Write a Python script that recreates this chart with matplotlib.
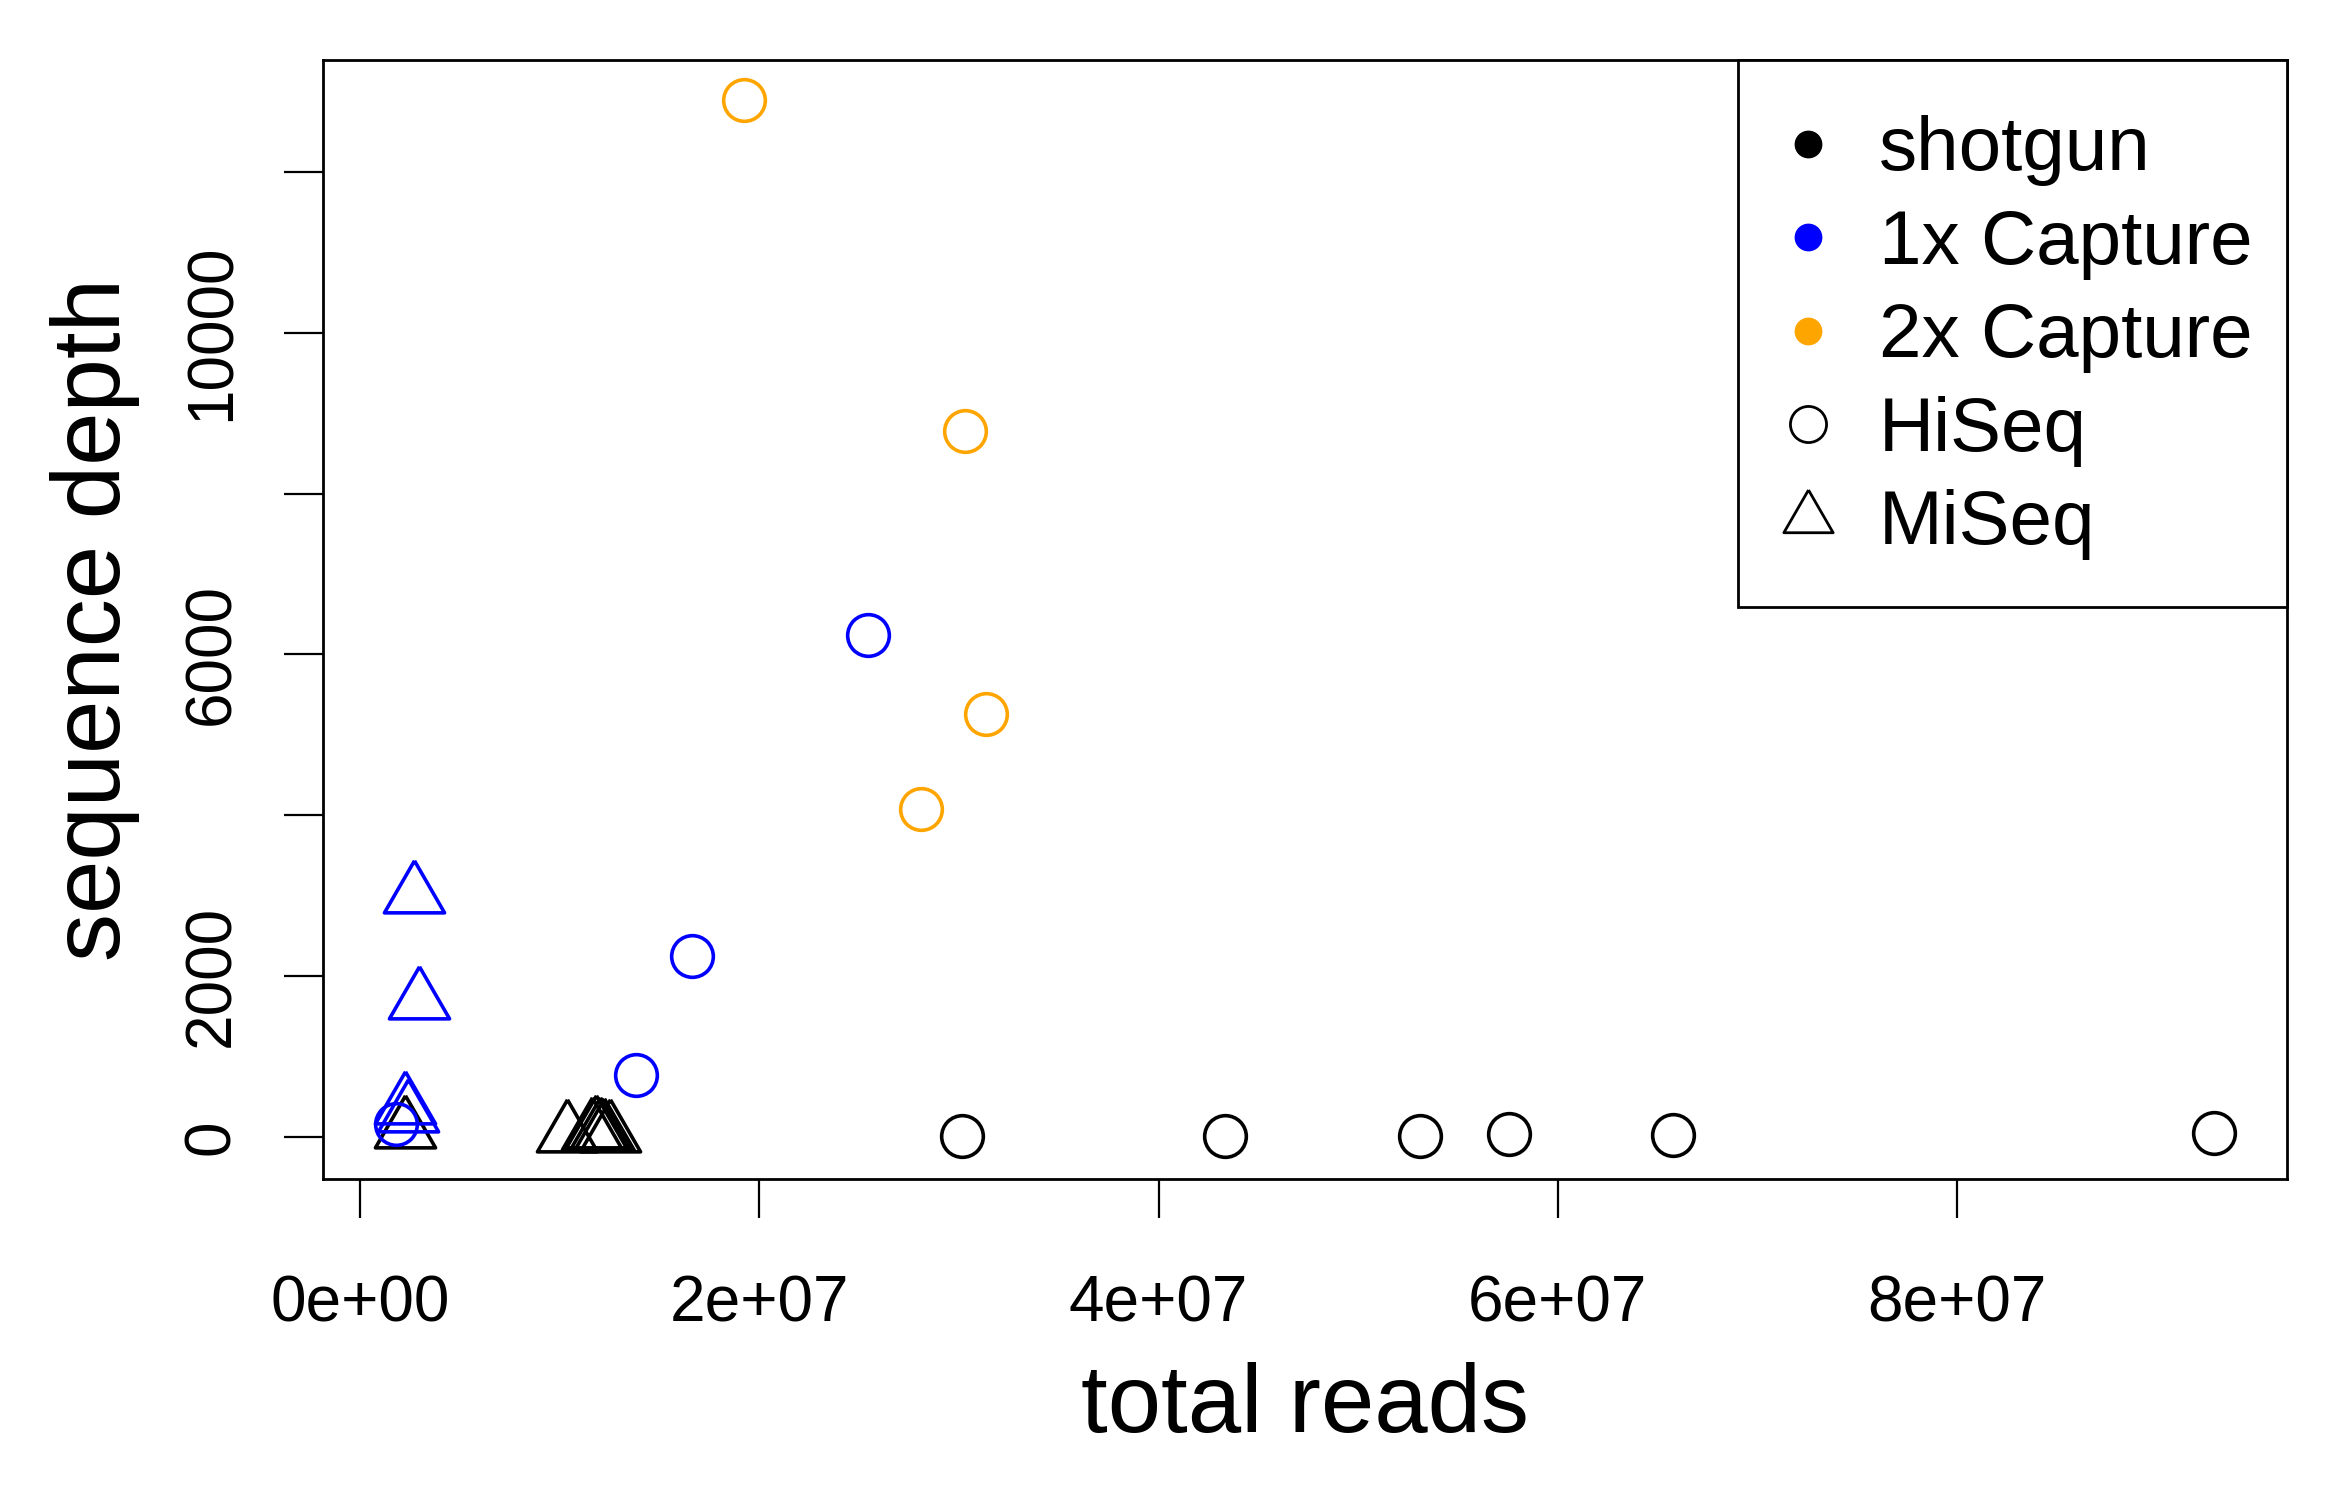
import matplotlib
matplotlib.use("Agg")
import matplotlib.pyplot as plt
from matplotlib.lines import Line2D
from matplotlib.patches import Rectangle
import numpy as np

plt.rcParams['font.family'] = ['Liberation Sans', 'DejaVu Sans']

# total reads / sequence depth
hiseq_2x_x = [1.921e7, 3.028e7, 3.133e7, 2.811e7]
hiseq_2x_y = [12889, 8778, 5259, 4074]

hiseq_1x_x = [2.542e7, 1.660e7, 1.383e7, 1.80e6]
hiseq_1x_y = [6241, 2259, 778, 170]

miseq_1x_x = [2.67e6, 2.92e6, 2.25e6, 2.40e6]
miseq_1x_y = [3006, 1689, 390, 290]

hiseq_sg_x = [3.013e7, 4.333e7, 5.308e7, 5.756e7, 6.577e7, 9.29e7]
hiseq_sg_y = [15, 15, 10, 40, 30, 55]

miseq_sg_x = [2.25e6, 1.035e7, 1.16e7, 1.18e7, 1.20e7, 1.22e7, 1.25e7]
miseq_sg_y = [87, 40, 70, 90, 70, 50, 40]

xticks = [0, 2e7, 4e7, 6e7, 8e7]
xtick_labels = ['0e+00', '2e+07', '4e+07', '6e+07', '8e+07']
yticks = [0, 2000, 4000, 6000, 8000, 10000, 12000]
ytick_labels = ['0', '2000', '', '6000', '', '10000', '']

legend_labels = ['shotgun', '1x Capture', '2x Capture', 'HiSeq', 'MiSeq']

BLUE = '#0000FF'
ORANGE = '#FFA500'

# R style triangle (pch = 2), centred on its centroid
tri = np.array([(0, 1), (-0.866, -0.5), (0.866, -0.5), (0, 1)])

fig = plt.figure(figsize=(23.39, 14.88), dpi=100)
ax = fig.add_axes([0.1381, 0.2077, 0.9776 - 0.1381, 0.9597 - 0.2077])

circ = dict(ls='none', marker='o', ms=30, mfc='none', mew=2.6)
trik = dict(ls='none', marker=tri, ms=50, mfc='none', mew=2.6)

ax.plot(hiseq_sg_x, hiseq_sg_y, mec='black', **circ)
ax.plot(miseq_sg_x, miseq_sg_y, mec='black', **trik)
ax.plot(hiseq_1x_x, hiseq_1x_y, mec=BLUE, **circ)
ax.plot(miseq_1x_x, miseq_1x_y, mec=BLUE, **trik)
ax.plot(hiseq_2x_x, hiseq_2x_y, mec=ORANGE, **circ)

ax.set_xlim(-1.87e6, 9.652e7)
ax.set_ylim(-518, 13389)

ax.set_xticks(xticks)
ax.set_xticklabels(xtick_labels)
ax.set_yticks(yticks)
ax.set_yticklabels(ytick_labels, rotation=90, va='center')
ax.tick_params(direction='out', length=28, width=1.6, labelsize=46)
ax.tick_params(axis='x', pad=41)
ax.tick_params(axis='y', pad=30)
for sp in ax.spines.values():
    sp.set_linewidth(2.0)

ax.set_xlabel('total reads', fontsize=69)
ax.xaxis.label.set_va('center')
ax.xaxis.set_label_coords(0.5, -0.204)
ax.set_ylabel('sequence depth', fontsize=69)
ax.yaxis.label.set_va('center')
ax.yaxis.set_label_coords(-0.116, 0.5)

# legend box like R's legend(): own frame, content centred inside it
ax.add_patch(Rectangle((0.7204, 0.5113), 0.2796, 0.4887, transform=ax.transAxes,
                       facecolor='white', edgecolor='black', lw=2.0,
                       clip_on=False, zorder=4))
handles = [
    Line2D([], [], ls='none', marker='o', ms=19, color='black'),
    Line2D([], [], ls='none', marker='o', ms=19, color=BLUE),
    Line2D([], [], ls='none', marker='o', ms=19, color=ORANGE),
    Line2D([], [], ls='none', marker='o', ms=26, mfc='none', mec='black', mew=2.0),
    Line2D([], [], ls='none', marker=tri, ms=41, mfc='none', mec='black', mew=2.0),
]
leg = ax.legend(handles, legend_labels, loc='center', bbox_to_anchor=(0.8636, 0.7516),
                borderaxespad=0, fontsize=55, frameon=False,
                handlelength=0.6, handletextpad=0.62,
                borderpad=0, labelspacing=0.295)
leg.set_zorder(5)

fig.savefig('out.png', dpi=100)
